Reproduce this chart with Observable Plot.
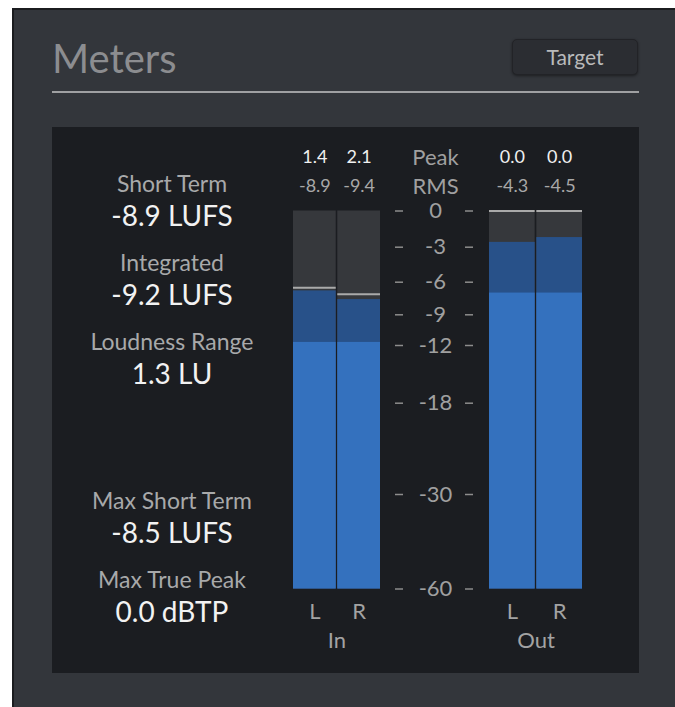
<!DOCTYPE html>
<html>
<head>
<meta charset="utf-8">
<script src="https://cdn.jsdelivr.net/npm/d3@7"></script>
<script src="https://cdn.jsdelivr.net/npm/@observablehq/plot@0.6"></script>
<style>
  html, body { margin: 0; padding: 0; background: #ffffff; width: 675px; height: 707px; overflow: hidden; font-family: Lato, "Open Sans", sans-serif; }
  .abs { position: absolute; }
  #frame { left: 12px; top: 8px; width: 663px; height: 699px; background: #33363b; border-left: 2px solid #1b1c1f; border-top: 2px solid #1b1c1f; box-sizing: border-box; }
  #title { left: 52px; top: 38px; font-size: 40px; line-height: 40px; color: #8c8d90; }
  #rule { left: 52px; top: 91px; width: 587px; height: 2px; background: #9fa0a2; }
  #btn { left: 512px; top: 39px; width: 126px; height: 36px; box-sizing: border-box; border-radius: 5px; background: #2b2d32; border: 1px solid #222327; box-shadow: 0 1px 3px rgba(0,0,0,0.45); color: #b9babb; font-size: 21px; line-height: 34px; text-align: center; }
  #panel { left: 52px; top: 127px; width: 587px; height: 546px; background: #1b1d21; }
  .stats { left: 52px; width: 240px; text-align: center; }
  .stat { height: 79px; }
  .stat .name { font-size: 23px; line-height: 26px; color: #a8a9aa; }
  .stat .val { font-size: 28px; line-height: 38px; color: #f2f2f2; }
</style>
</head>
<body>
<div id="frame" class="abs"></div>
<div id="title" class="abs">Meters</div>
<div id="rule" class="abs"></div>
<div id="btn" class="abs">Target</div>
<div id="panel" class="abs"></div>
<div id="stats1" class="abs stats" style="top:170px"></div>
<div id="stats2" class="abs stats" style="top:487px"></div>
<div id="meterIn" class="abs" style="left:283px; top:127px"></div>
<div id="meterScale" class="abs" style="left:387px; top:127px"></div>
<div id="meterOut" class="abs" style="left:479px; top:127px"></div>
<script>
// ---- data ----
const channels = ["L", "R"];
const meterGroup = ["In", "In", "Out", "Out"];
const meterChannel = ["L", "R", "L", "R"];
const peakReadout = [1.4, 2.1, 0.0, 0.0];
const rmsReadout = [-8.9, -9.4, -4.3, -4.5];
const peakLevel = [-6.8, -7.6, -2.6, -2.2];
const rmsLevel = [-11.7, -11.7, -7.0, -7.0];
const holdLevel = [-6.5, -7.1, 0.0, 0.0];
const scaleTicks = [0, -3, -6, -9, -12, -18, -30, -60];
const statNames = ["Short Term", "Integrated", "Loudness Range", "Max Short Term", "Max True Peak"];
const statValues = ["-8.9 LUFS", "-9.2 LUFS", "1.3 LU", "-8.5 LUFS", "0.0 dBTP"];

// ---- stats text ----
function fillStats(el, from, to) {
  for (let i = from; i < to; i++) {
    const row = document.createElement("div");
    row.className = "stat";
    const n = document.createElement("div"); n.className = "name"; n.textContent = statNames[i];
    const v = document.createElement("div"); v.className = "val"; v.textContent = statValues[i];
    row.append(n, v);
    el.append(row);
  }
}
fillStats(document.getElementById("stats1"), 0, 3);
fillStats(document.getElementById("stats2"), 3, 5);

// ---- meters ----
const rows = meterGroup.map((g, i) => ({
  group: g, ch: meterChannel[i], peak: peakReadout[i], rms: rmsReadout[i],
  peakLevel: peakLevel[i], rmsLevel: rmsLevel[i], hold: holdLevel[i]
}));

const H = 546, MT = 83.5, MB = 84.5;
const yScale = {
  type: "linear",
  domain: scaleTicks,
  range: [83.5, 119.7, 154.7, 187.3, 218, 275.7, 367, 461.5],
  axis: null
};
const font = "Lato, 'Open Sans', sans-serif";

function meterPlot(group, width) {
  const data = rows.filter(d => d.group === group);
  return Plot.plot({
    width, height: H,
    marginLeft: 10, marginRight: 10, marginTop: MT, marginBottom: MB,
    style: { background: "transparent", fontFamily: font },
    x: { type: "band", domain: channels, paddingInner: 0.035, paddingOuter: 0, round: false, axis: null },
    y: yScale,
    marks: [
      Plot.barY(data, { x: "ch", y1: -60, y2: 0, fill: "#36383c" }),
      Plot.barY(data, { x: "ch", y1: -60, y2: "peakLevel", fill: "#285189" }),
      Plot.barY(data, { x: "ch", y1: -60, y2: "rmsLevel", fill: "#3471be" }),
      Plot.tickY(data, { x: "ch", y: "hold", stroke: "#aaaaaa", strokeWidth: 2 }),
      Plot.text(data, { x: "ch", text: d => d.peak.toFixed(1), frameAnchor: "top", lineAnchor: "middle", dy: -53.5, fill: "#f0f0f0", fontSize: 18, fontFamily: font }),
      Plot.text(data, { x: "ch", text: d => d.rms.toFixed(1), frameAnchor: "top", lineAnchor: "middle", dy: -24.5, fill: "#a8a8a8", fontSize: 18, fontFamily: font }),
      Plot.text(data, { x: "ch", text: "ch", frameAnchor: "bottom", lineAnchor: "middle", dy: 22.5, fill: "#a3a3a3", fontSize: 22, fontFamily: font }),
      Plot.text([group], { text: d => d, frameAnchor: "bottom", lineAnchor: "middle", dy: 51.5, fill: "#a3a3a3", fontSize: 22, fontFamily: font })
    ]
  });
}

const scalePlot = Plot.plot({
  width: 96, height: H,
  marginLeft: 0, marginRight: 0, marginTop: MT, marginBottom: MB,
  style: { background: "transparent", fontFamily: font },
  y: yScale,
  marks: [
    Plot.ruleY(scaleTicks, { insetLeft: 8, insetRight: 80, stroke: "#8d8d8d", strokeWidth: 1.5 }),
    Plot.ruleY(scaleTicks, { insetLeft: 78, insetRight: 10, stroke: "#8d8d8d", strokeWidth: 1.5 }),
    Plot.text(scaleTicks, { y: d => d, text: d => String(d), fill: "#a0a0a0", fontSize: 22, fontFamily: font }),
    Plot.text(["Peak"], { text: d => d, frameAnchor: "top", lineAnchor: "middle", dy: -53.5, fill: "#a0a0a0", fontSize: 22, fontFamily: font }),
    Plot.text(["RMS"], { text: d => d, frameAnchor: "top", lineAnchor: "middle", dy: -24.5, fill: "#a0a0a0", fontSize: 22, fontFamily: font })
  ]
});

document.getElementById("meterIn").append(meterPlot("In", 107));
document.getElementById("meterScale").append(scalePlot);
document.getElementById("meterOut").append(meterPlot("Out", 113));
</script>
</body>
</html>
